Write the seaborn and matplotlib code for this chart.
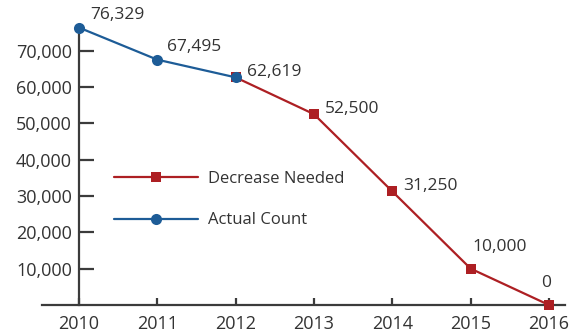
import matplotlib
matplotlib.use("Agg")
import matplotlib.pyplot as plt
import seaborn as sns
import pandas as pd
from matplotlib.ticker import FuncFormatter

years_actual = [2010, 2011, 2012]
actual_count = [76329, 67495, 62619]
years_needed = [2012, 2013, 2014, 2015, 2016]
decrease_needed = [62619, 52500, 31250, 10000, 0]
x_ticks = [2010, 2011, 2012, 2013, 2014, 2015, 2016]
y_ticks = [10000, 20000, 30000, 40000, 50000, 60000, 70000]

sns.set_style("white")
plt.rcParams['font.family'] = ['Open Sans', 'DejaVu Sans']

BLUE = "#1d5c97"
RED = "#ad1f23"
DARK = "#3b3b3b"
TXT = "#333333"

df_a = pd.DataFrame({"year": years_actual, "value": actual_count})
df_n = pd.DataFrame({"year": years_needed, "value": decrease_needed})

fig = plt.figure(figsize=(5.8, 3.36), dpi=100)
ax = fig.add_axes([42/580, 31/336, (564.7-42)/580, 305/336])

sns.lineplot(data=df_n, x="year", y="value", ax=ax, color=RED, lw=1.6,
             marker="s", markersize=7.5, markeredgewidth=0, label="Decrease Needed",
             clip_on=False, zorder=3)
sns.lineplot(data=df_a, x="year", y="value", ax=ax, color=BLUE, lw=1.6,
             marker="o", markersize=8, markeredgewidth=0, label="Actual Count",
             clip_on=False, zorder=4)

ax.set_xlim(2009.53, 2016.2)
ax.set_ylim(0, 83900)
ax.set_xticks(x_ticks)
ax.set_yticks(y_ticks)
ax.yaxis.set_major_formatter(FuncFormatter(lambda v, p: f"{int(v):,}"))
ax.set_xlabel("")
ax.set_ylabel("")

for s in ["top", "right"]:
    ax.spines[s].set_visible(False)
for s in ["left", "bottom"]:
    ax.spines[s].set_color(DARK)
    ax.spines[s].set_linewidth(1.6)
ax.spines["left"].set_position(("data", x_ticks[0]))
ax.spines["left"].set_bounds(0, actual_count[0])
ax.spines["left"].set_zorder(2)

ax.tick_params(axis="y", direction="in", length=11, width=1.6, color=DARK,
               labelsize=13, labelcolor=TXT, pad=5, left=True)
ax.tick_params(axis="x", direction="in", length=5, width=1.6, color=DARK,
               labelsize=13, labelcolor=TXT, pad=7, bottom=True)

# value labels
all_years = years_actual + years_needed[1:]
all_vals = actual_count + decrease_needed[1:]
offsets = [(8, 3), (7, 3), (8, 4), (8, 4), (8, 4), (1, 10), (-2, 10)]
aligns = [("left", "bottom"), ("left", "bottom"), ("left", "center"),
          ("left", "center"), ("left", "center"), ("left", "bottom"), ("center", "bottom")]
for xv, yv, off, (ha, va) in zip(all_years, all_vals, offsets, aligns):
    ax.annotate(f"{yv:,}", (xv, yv), xytext=off, textcoords="offset points",
                ha=ha, va=va, fontsize=12.5, color=TXT, annotation_clip=False)

leg = ax.legend(loc="upper left", bbox_to_anchor=(0.11, 0.49), frameon=False,
                fontsize=12, handlelength=5, labelspacing=1.55, handletextpad=0.6)
for t in leg.get_texts():
    t.set_color(TXT)

fig.savefig("out.png", dpi=100, facecolor="white")
